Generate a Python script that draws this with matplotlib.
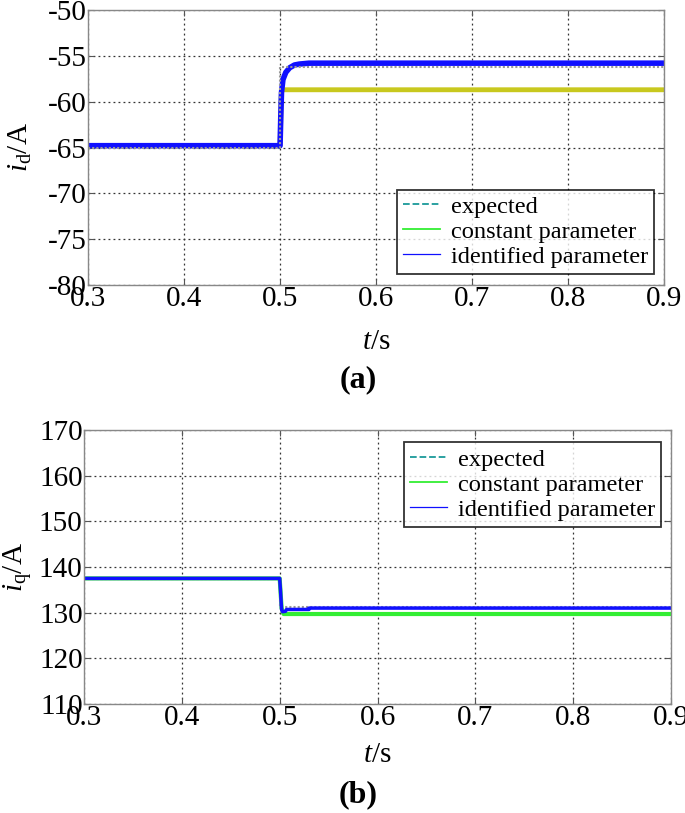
import numpy as np
import matplotlib
matplotlib.use("Agg")
import matplotlib.pyplot as plt
from matplotlib.lines import Line2D

plt.rcParams['font.family'] = ['Liberation Serif', 'DejaVu Serif']
plt.rcParams['mathtext.fontset'] = 'custom'
plt.rcParams['mathtext.rm'] = 'Liberation Serif'
plt.rcParams['mathtext.it'] = 'Liberation Serif:italic'
plt.rcParams['mathtext.bf'] = 'Liberation Serif:bold'

# -------------------------------
# DATA
# -------------------------------
# (a) d-axis current
t_exp_d = [0.3, 0.5, 0.5, 0.9]
id_expected = [-65.0, -65.0, -56.2, -56.2]

t_const_d = [0.3, 0.5, 0.5015, 0.9]
id_constant = [-64.8, -64.8, -58.7, -58.7]

t_ident_d = [0.3, 0.5, 0.5008, 0.5015, 0.503, 0.506, 0.51, 0.515, 0.52, 0.53, 0.9]
id_identified = [-64.8, -64.8, -61.5, -59.0, -57.6, -56.8, -56.3, -56.0, -55.9, -55.8, -55.8]

# (b) q-axis current
t_exp_q = [0.3, 0.5, 0.5, 0.9]
iq_expected = [137.3, 137.3, 131.2, 131.2]

t_const_q = [0.3, 0.5, 0.502, 0.504, 0.9]
iq_constant = [137.5, 137.5, 131.0, 129.7, 129.7]

t_ident_q = [0.3, 0.5, 0.5008, 0.502, 0.503, 0.506, 0.507, 0.53, 0.53, 0.9]
iq_identified = [137.5, 137.5, 135.0, 130.6, 130.2, 130.3, 130.7, 130.7, 131.0, 131.0]

xticks = [0.3, 0.4, 0.5, 0.6, 0.7, 0.8, 0.9]
yticks_d = [-80, -75, -70, -65, -60, -55, -50]
yticks_q = [110, 120, 130, 140, 150, 160, 170]

EXP_COLOR = '#1a9a9a'
CONST_COLOR = '#33ee33'
IDENT_COLOR = '#1010ff'

fig = plt.figure(figsize=(6.85, 8.13), dpi=100)
ax1 = fig.add_axes([0.1285, 0.6494, 0.8410, 0.3383])
ax2 = fig.add_axes([0.1226, 0.1341, 0.8570, 0.3370])


def style_axes(ax, yticks, ylabel, xpad, ylab_x):
    ax.set_xlim(0.3, 0.9)
    ax.set_ylim(yticks[0], yticks[-1])
    ax.set_xticks(xticks)
    ax.set_yticks(yticks)
    ax.set_xticklabels([f"{v:.1f}" for v in xticks])
    ax.set_yticklabels([str(v) for v in yticks])
    ax.tick_params(direction='in', top=True, right=True, labelsize=21,
                   length=4, color='#555555', pad=1)
    ax.grid(True, color='#333333', linestyle=(0, (1.5, 2.5)), linewidth=0.9)
    for sp in ax.spines.values():
        sp.set_color('#888888')
        sp.set_linewidth(1.0)
    ax.set_xlabel(r'$t$/s', fontsize=21, labelpad=xpad)
    ax.set_ylabel(ylabel, fontsize=21)
    ax.yaxis.set_label_coords(ylab_x, 0.5)


legend_handles = [
    Line2D([], [], color=EXP_COLOR, linestyle='--', linewidth=1.3),
    Line2D([], [], color=CONST_COLOR, linewidth=1.3),
    Line2D([], [], color=IDENT_COLOR, linewidth=0.9),
]
legend_labels = ['expected', 'constant parameter', 'identified parameter']
legend_kw = dict(fontsize=17.6, frameon=True, fancybox=False,
                 edgecolor='black', handlelength=1.5, handletextpad=0.45,
                 borderpad=0.25, labelspacing=0.12, borderaxespad=0)

# (a)
ax1.plot(t_const_d, id_constant, color='#c8c81e', linewidth=3.5)
ax1.plot(t_ident_d, id_identified, color=IDENT_COLOR, linewidth=4)
ax1.plot(t_exp_d, id_expected, color='#999999', linestyle=(0, (1, 1)), linewidth=1.5)
style_axes(ax1, yticks_d, r'$i_{\rm d}$/A', 12, -0.094)
leg1 = ax1.legend(legend_handles, legend_labels, loc='lower right',
                  bbox_to_anchor=(0.983, 0.04), **legend_kw)
leg1.get_frame().set_linewidth(1.3)

# (b)
ax2.plot(t_const_q, iq_constant, color=CONST_COLOR, linewidth=3)
ax2.plot(t_exp_q, iq_expected, color='#999999', linestyle=(0, (1, 1)), linewidth=1.5)
ax2.plot(t_ident_q, iq_identified, color=IDENT_COLOR, linewidth=2.5)
style_axes(ax2, yticks_q, r'$i_{\rm q}$/A', 8, -0.085)
leg2 = ax2.legend(legend_handles, legend_labels, loc='upper right',
                  bbox_to_anchor=(0.983, 0.955), **legend_kw)
leg2.get_frame().set_linewidth(1.3)

fig.text(0.523, 1 - 380 / 813, '(a)', fontsize=23, fontweight='bold',
         ha='center', va='center')
fig.text(0.523, 1 - 795 / 813, '(b)', fontsize=23, fontweight='bold',
         ha='center', va='center')

fig.savefig('out.png', dpi=100)
